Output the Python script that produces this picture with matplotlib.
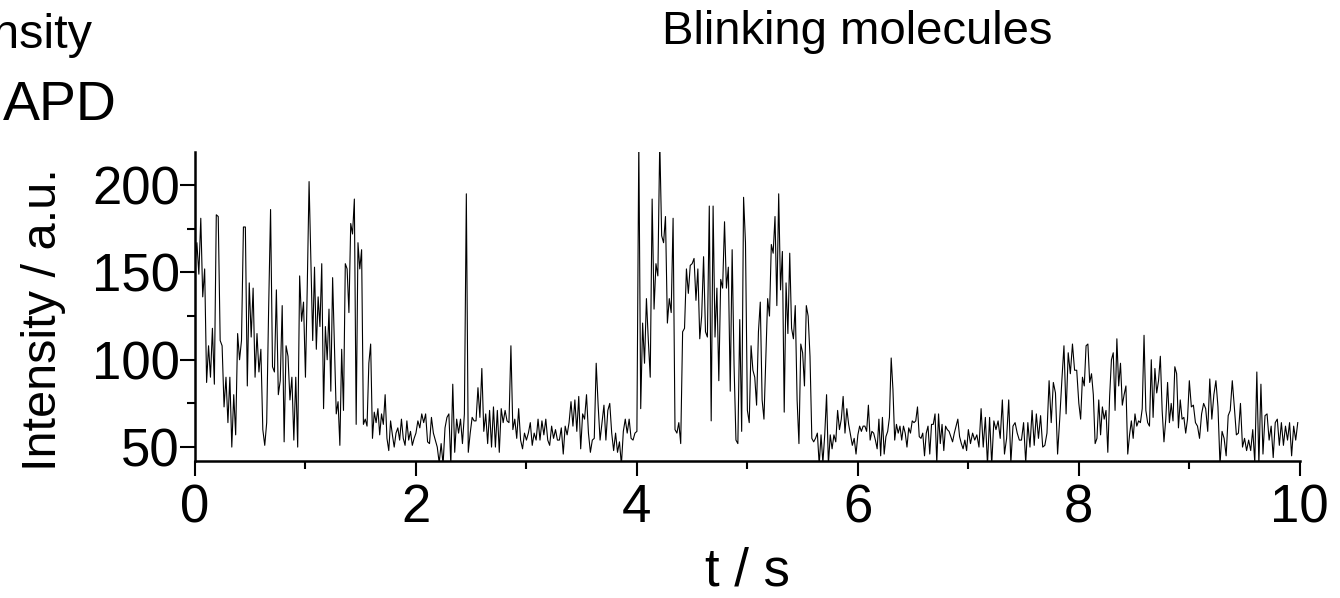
import numpy as np
import matplotlib.pyplot as plt
from matplotlib.ticker import MultipleLocator

plt.rcParams['font.family'] = ['Liberation Sans', 'DejaVu Sans']

# intensity trace (a.u.), read per second of the recording
sec0 = [154, 167, 149, 181, 136, 152, 87, 108, 90, 118, 86, 183, 182, 111, 108, 73, 90, 64, 90, 50,
        80, 57, 115, 100, 111, 176, 176, 85, 144, 113, 141, 90, 115, 93, 106, 60, 51, 64, 129, 186,
        96, 93, 140, 80, 88, 131, 53, 108, 102, 77, 90, 54, 90, 50, 148, 122, 133]
sec1 = [90, 142, 202, 156, 111, 153, 106, 136, 119, 155, 72, 119, 100, 129, 82, 147, 108, 69, 76, 51,
        106, 71, 155, 152, 127, 178, 172, 192, 63, 167, 152, 163, 63, 66, 62, 98, 109, 55, 70, 64,
        72, 57, 69, 63, 80, 55, 48, 65, 57, 50, 58, 61, 54, 66, 55, 51, 65, 54, 59, 51, 55]
sec2 = [58, 65, 61, 69, 64, 69, 53, 52, 67, 58, 54, 50, 41, 52, 40, 61, 67, 69, 40, 86,
        47, 66, 58, 66, 52, 69, 195, 47, 58, 67, 65, 65, 84, 67, 95, 59, 69, 52, 71, 50,
        73, 50, 71, 47, 72, 64, 71, 65, 64, 108, 60, 66, 55, 72, 54, 49, 58]
sec3 = [54, 58, 64, 51, 58, 54, 66, 54, 65, 57, 66, 54, 51, 62, 55, 60, 54, 54, 61, 46,
        62, 57, 64, 76, 62, 77, 59, 79, 49, 69, 66, 80, 58, 47, 54, 55, 98, 74, 54, 64,
        74, 54, 71, 75, 58, 48, 58, 47, 53, 40, 59, 66, 58, 66, 55, 54, 58]
sec4 = [59, 225, 72, 121, 98, 135, 111, 90, 192, 129, 155, 148, 225, 171, 167, 182, 121, 135, 127, 181,
        60, 58, 64, 52, 116, 118, 152, 138, 154, 155, 158, 134, 152, 112, 125, 159, 116, 113, 188, 65,
        188, 113, 141, 88, 146, 141, 179, 141, 153, 82, 163, 97, 54, 52, 123, 59, 193, 167]
sec5 = [71, 64, 108, 94, 90, 74, 116, 133, 77, 66, 100, 135, 125, 166, 161, 182, 131, 195, 140, 162,
        70, 144, 115, 161, 118, 112, 131, 77, 52, 109, 104, 85, 131, 125, 102, 55, 53, 55, 58, 40,
        57, 41, 57, 80, 40, 57, 49, 57, 53, 71, 60, 66, 79, 58, 72, 63, 57, 51, 55, 46]
sec6 = [57, 62, 59, 62, 62, 59, 74, 54, 59, 58, 54, 49, 66, 45, 67, 46, 56, 59, 67, 101,
        83, 54, 63, 58, 62, 54, 62, 58, 50, 61, 58, 65, 64, 65, 73, 56, 55, 58, 45, 58,
        62, 46, 63, 63, 69, 41, 69, 52, 63, 48, 62, 60, 59, 56, 53, 58, 62, 66, 56, 52,
        49, 54, 48]
sec7 = [60, 52, 58, 54, 57, 50, 72, 50, 67, 40, 67, 40, 65, 60, 65, 55, 77, 46, 55, 77,
        41, 62, 64, 58, 54, 54, 64, 41, 64, 50, 71, 51, 69, 55, 68, 50, 51, 58, 88, 64,
        87, 81, 46, 66, 88, 108, 69, 104, 92, 109, 94, 94]
sec8 = [75, 66, 90, 85, 108, 109, 87, 92, 80, 52, 55, 77, 57, 73, 66, 71, 47, 79, 100, 104,
        71, 112, 85, 98, 74, 80, 85, 46, 57, 65, 55, 69, 62, 65, 64, 72, 114, 71, 64, 62,
        100, 67, 95, 81, 88, 102, 71, 53, 66, 87, 64, 75, 65, 96, 92, 61, 77, 66, 67, 58, 66]
sec9 = [88, 73, 74, 64, 62, 55, 69, 75, 72, 59, 89, 66, 80, 88, 73, 40, 59, 55, 45, 68,
        71, 88, 73, 57, 58, 75, 50, 55, 48, 54, 48, 60, 41, 93, 40, 86, 46, 68, 69, 54,
        62, 44, 64, 66, 51, 64, 51, 62, 54, 64, 45, 62, 54, 64]

seconds = [sec0, sec1, sec2, sec3, sec4, sec5, sec6, sec7, sec8, sec9]

t = np.concatenate([s + np.linspace(0, 1, len(v), endpoint=False) for s, v in enumerate(seconds)])
intensity = np.concatenate(seconds)

fig = plt.figure(figsize=(13.4, 5.98), dpi=100)
ax = fig.add_axes([0.1455, 0.229, 0.8245, 0.517])

ax.plot(t, intensity, color='black', linewidth=0.8)

ax.set_xlim(0, 10)
ax.set_ylim(42, 219)
ax.xaxis.set_major_locator(MultipleLocator(2))
ax.xaxis.set_minor_locator(MultipleLocator(1))
ax.yaxis.set_major_locator(MultipleLocator(50))
ax.yaxis.set_minor_locator(MultipleLocator(25))

for side in ['top', 'right']:
    ax.spines[side].set_visible(False)
for side in ['left', 'bottom']:
    ax.spines[side].set_linewidth(1.8)

ax.tick_params(which='major', direction='out', length=11, width=1.5, labelsize=38, pad=5)
ax.tick_params(which='minor', direction='out', length=5.5, width=1.5)
ax.tick_params(axis='y', which='major', pad=0)

ax.set_xlabel("t / s", fontsize=38)
ax.set_ylabel("Intensity / a.u.", fontsize=35)
ax.xaxis.set_label_coords(0.5, -0.275)
ax.yaxis.set_label_coords(-0.117, 0.458)

fig.text(0.64, 0.947, "Blinking molecules", fontsize=34, ha='center', va='center')
fig.text(0.069, 0.92, "Intensity", fontsize=35, ha='right', va='baseline')
fig.text(0.087, 0.80, "APD", fontsize=40, ha='right', va='baseline')

plt.savefig("out.png", dpi=100)
